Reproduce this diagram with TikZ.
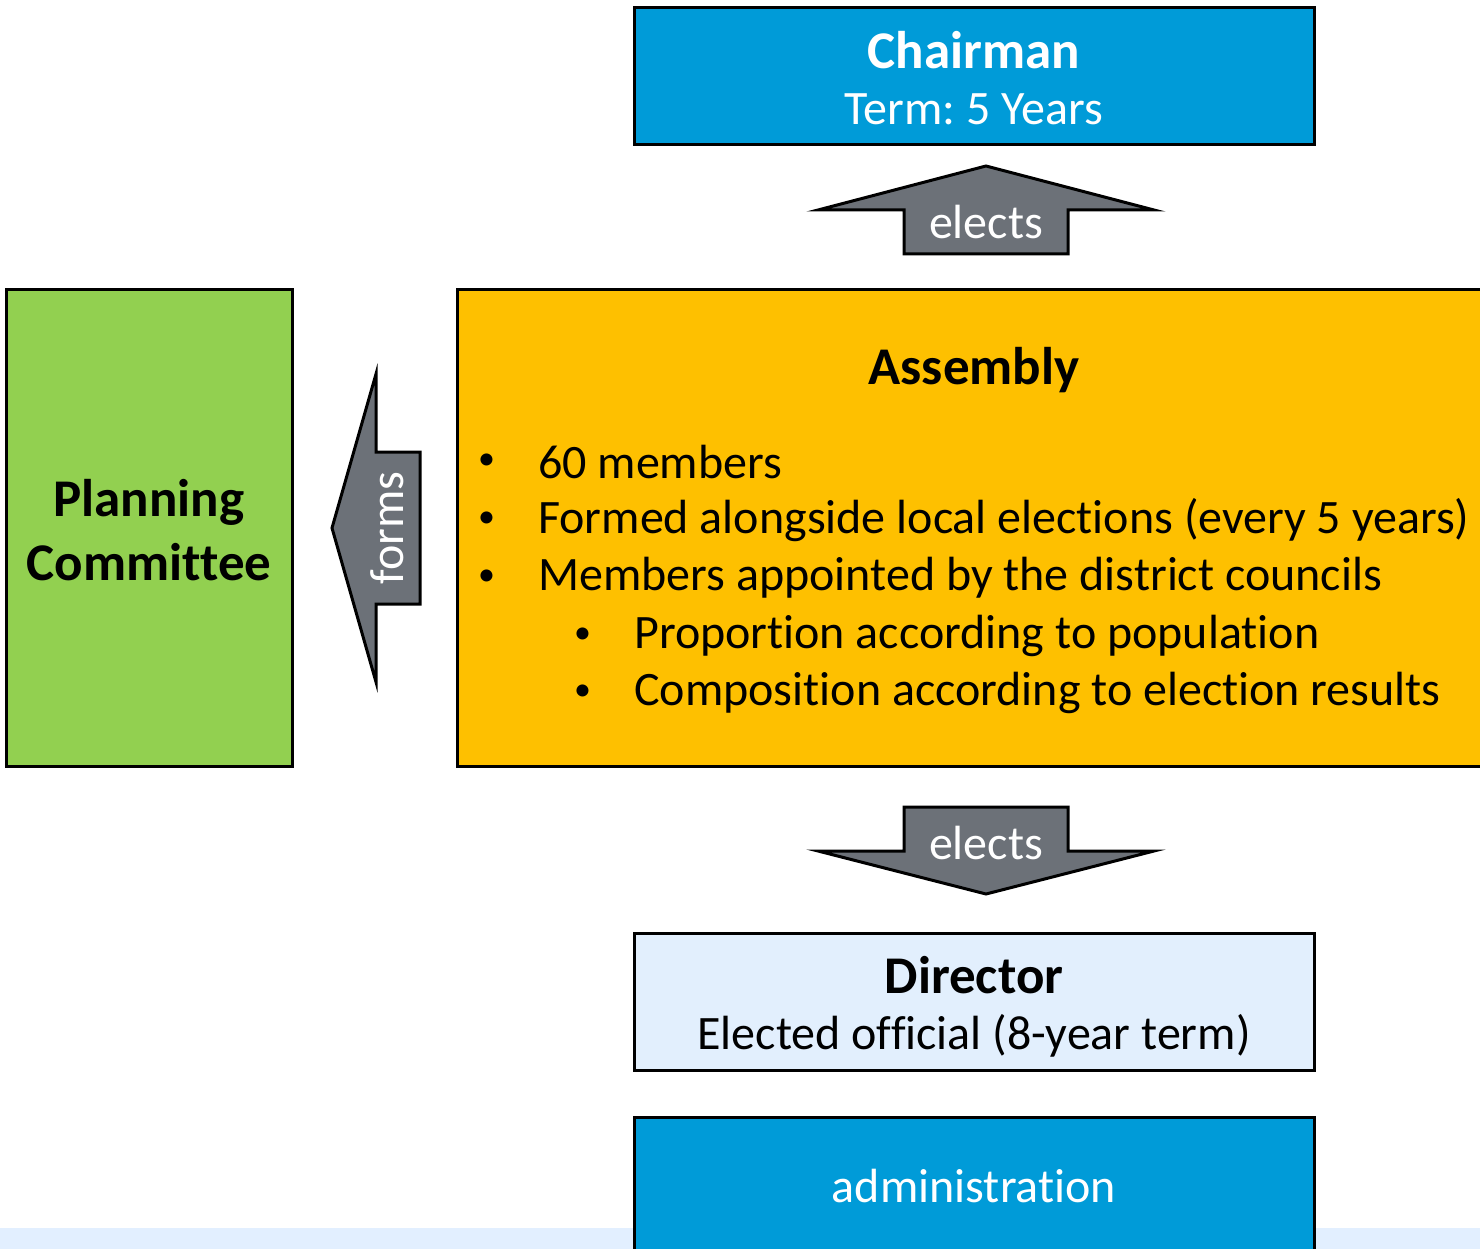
\documentclass[tikz,border=0pt]{standalone}
\usepackage{fontspec}
\setmainfont[Ligatures=NoCommon]{Carlito}
\frenchspacing
\definecolor{cblue}{RGB}{0,155,216}
\definecolor{cyel}{RGB}{254,192,0}
\definecolor{cgreen}{RGB}{146,208,80}
\definecolor{clight}{RGB}{226,239,253}
\definecolor{cgray}{RGB}{108,113,120}
\definecolor{cstrip}{RGB}{226,239,255}
\tikzset{
  box/.style={draw=black, line width=3pt, inner sep=0pt},
  blockarrow/.style={draw=black, fill=cgray, line width=3pt, line join=miter},
  body/.style={font=\fontsize{48}{64}\selectfont, inner sep=0pt},
  title/.style={font=\fontsize{53}{64}\selectfont\bfseries, inner sep=0pt},
  bul/.style={font=\fontsize{34}{40}\selectfont, inner sep=0pt},
}
\begin{document}
\begin{tikzpicture}[x=1pt,y=-1pt]
\useasboundingbox (0,0) rectangle (1480,1249);
\clip (0,0) rectangle (1480,1249);
\fill[cstrip] (0,1228) rectangle (1480,1249);
% boxes
\draw[box, fill=cblue] (634,8) rectangle (1314,145);
\node[title, text=white] (chair) at (974,50) {Chairman};
\node[body, text=white] at (974,109) {Term: 5 Years};

\draw[box, fill=cyel] (457,290) rectangle (1500,766);
\node[title] (assembly) at (974,370) {Assembly};
\begin{scope}[anchor=west]
\node[bul] at (478,462) {•};
\node[body] at (538,462) {60 members};
\node[bul] at (478,520) {•};
\node[body] at (538,520) {Formed alongside local elections (every 5 years)};
\node[bul] at (478,578) {•};
\node[body] at (538,578) {Members appointed by the district councils};
\node[bul] at (574,636) {•};
\node[body] at (634,636) {Proportion according to population};
\node[bul] at (574,693) {•};
\node[body] at (634,693) {Composition according to election results};
\end{scope}

\draw[box, fill=cgreen] (6,290) rectangle (292,766);
\node (plan) [title, align=center] at (149,530) {Planning\\Committee};

\draw[box, fill=clight] (634,933) rectangle (1314,1070);
\node[title] (dir) at (974,975) {Director};
\node[body] at (974,1036) {Elected official (8-year term)};

\draw[box, fill=cblue] (634,1117) rectangle (1314,1300);
\node[body, text=white] (admin) at (974,1186) {administration};

% block arrows
\draw[blockarrow] (904,254) -- (904,210) -- (818,210) -- (986,166) -- (1154,210) -- (1068,210) -- (1068,254) -- cycle;
\node[body, text=white] (e1) at (986,222) {elects};

\draw[blockarrow] (904,807) -- (904,851) -- (818,851) -- (986,894) -- (1154,851) -- (1068,851) -- (1068,807) -- cycle;
\node[body, text=white] (e2) at (986,843) {elects};

\draw[blockarrow] (420,452) -- (376,452) -- (376,374) -- (332,528) -- (376,682) -- (376,604) -- (420,604) -- cycle;
\node[body, text=white, rotate=90] (f) at (387,528) {forms};
\end{tikzpicture}
\end{document}
